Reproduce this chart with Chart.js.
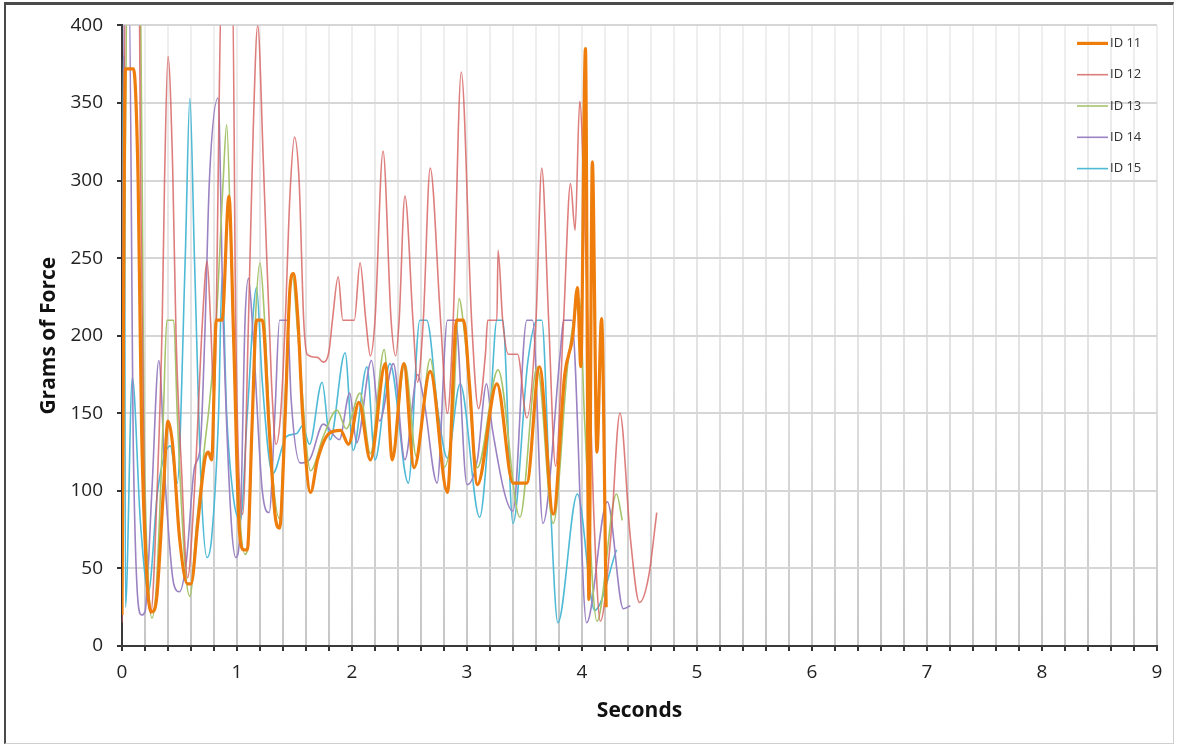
<!DOCTYPE html>
<html lang="en">
<head>
<meta charset="UTF-8">
<title>Grams of Force</title>
<script src="https://cdn.jsdelivr.net/npm/chart.js@4"></script>
<style>
  body { margin: 0; background: #fff; }
  #frame {
    position: absolute; left: 4px; top: 2px; width: 1167px; height: 738px;
    border-top: 3px solid #4a4a4a; border-left: 2px solid #4a4a4a;
    border-right: 1px solid #cfcfcf; border-bottom: 1px solid #cfcfcf;
  }
  #wrap { position: absolute; left: 0; top: 0; }
</style>
</head>
<body>
<div id="frame"></div>
<div id="wrap"><canvas id="forceChart" width="1177" height="744"></canvas></div>

<script>
// [seconds, grams of force]
const id11 = [[0,20],[0.03,372],[0.10,372],[0.14,300],[0.17,141],[0.22,40],[0.26,22],[0.30,30],[0.36,100],[0.40,145],
  [0.44,130],[0.50,70],[0.57,40],[0.60,40],[0.66,80],[0.72,120],[0.75,125],[0.78,120],[0.82,210],[0.87,210],
  [0.93,290],[0.97,200],[1.02,75],[1.06,62],[1.09,62],[1.13,140],[1.17,210],[1.22,210],[1.28,140],[1.33,85],
  [1.37,76],[1.42,150],[1.46,230],[1.49,240],[1.53,210],[1.57,150],[1.64,99],[1.70,120],[1.80,137],[1.90,139],
  [1.97,130],[2.06,157],[2.16,120],[2.29,182],[2.35,120],[2.45,182],[2.54,115],[2.68,177],[2.83,99],[2.91,210],
  [2.97,210],[3.02,170],[3.09,104],[3.26,169],[3.40,105],[3.52,105],[3.63,180],[3.75,85],[3.85,175],[3.92,200],
  [3.96,231],[3.99,180],[4.03,385],[4.06,30],[4.09,312],[4.13,125],[4.17,211],[4.21,25]];

const id12 = [[0,15],[0.03,430],[0.15,430],[0.16,310],[0.19,120],[0.25,21],[0.31,110],[0.35,210],[0.37,300],[0.40,380],
  [0.44,310],[0.47,200],[0.52,110],[0.57,44],[0.63,100],[0.70,210],[0.74,248],[0.77,210],[0.80,160],[0.87,430],
  [0.96,430],[0.99,200],[1.05,85],[1.10,210],[1.14,330],[1.18,400],[1.23,310],[1.30,170],[1.34,130],[1.38,150],
  [1.42,210],[1.46,290],[1.50,328],[1.54,300],[1.58,210],[1.61,188],[1.70,186],[1.75,183],[1.80,190],[1.83,210],
  [1.88,238],[1.92,210],[2.02,210],[2.07,247],[2.12,210],[2.16,187],[2.20,210],[2.27,319],[2.34,210],[2.38,187],
  [2.41,210],[2.46,290],[2.53,210],[2.57,170],[2.62,210],[2.68,308],[2.77,210],[2.83,150],[2.88,210],[2.95,370],
  [3.04,210],[3.10,153],[3.16,188],[3.18,210],[3.26,210],[3.27,255],[3.31,210],[3.36,188],[3.44,188],[3.52,147],
  [3.60,210],[3.65,308],[3.71,210],[3.77,116],[3.84,210],[3.90,298],[3.94,268],[3.98,351],[4.03,260],[4.10,90],
  [4.16,16],[4.25,70],[4.33,150],[4.42,70],[4.50,28],[4.58,45],[4.65,86]];

const id13 = [[0,20],[0.05,430],[0.16,430],[0.19,150],[0.23,40],[0.26,18],[0.30,40],[0.36,150],[0.39,210],[0.45,210],
  [0.48,150],[0.55,50],[0.59,32],[0.65,80],[0.72,130],[0.76,156],[0.82,210],[0.88,300],[0.91,336],[0.95,250],
  [1.00,120],[1.07,59],[1.10,70],[1.16,210],[1.20,247],[1.24,210],[1.30,120],[1.37,82],[1.43,180],[1.48,240],
  [1.53,200],[1.64,113],[1.75,135],[1.87,152],[1.95,140],[2.07,163],[2.16,124],[2.28,191],[2.35,124],[2.46,182],
  [2.56,122],[2.68,185],[2.80,115],[2.88,150],[2.93,224],[2.98,200],[3.09,115],[3.27,178],[3.46,83],[3.61,180],
  [3.75,79],[3.88,184],[3.98,224],[4.02,150],[4.13,16],[4.30,98],[4.35,81]];

const id14 = [[0,20],[0.02,430],[0.06,430],[0.10,120],[0.17,20],[0.20,22],[0.26,100],[0.32,184],[0.38,100],[0.45,40],
  [0.50,35],[0.56,55],[0.63,115],[0.68,128],[0.72,200],[0.76,300],[0.835,353],[0.88,210],[0.95,80],[0.99,57],
  [1.03,80],[1.07,210],[1.10,237],[1.14,200],[1.22,100],[1.28,86],[1.33,150],[1.37,210],[1.44,210],[1.47,160],
  [1.55,118],[1.63,120],[1.75,143],[1.89,133],[1.98,163],[2.04,131],[2.17,184],[2.24,145],[2.36,182],[2.46,120],
  [2.57,175],[2.63,156],[2.74,105],[2.83,210],[2.90,210],[3.00,104],[3.09,120],[3.17,169],[3.22,140],[3.40,87],
  [3.52,210],[3.57,210],[3.66,79],[3.81,188],[3.84,210],[3.91,210],[4.04,15],[4.22,93],[4.36,24],[4.42,26]];

const id15 = [[0,20],[0.01,380],[0.02,380],[0.03,25],[0.09,173],[0.16,80],[0.23,35],[0.31,100],[0.42,129],[0.48,105],
  [0.55,250],[0.59,353],[0.63,250],[0.69,100],[0.74,57],[0.78,70],[0.84,150],[0.87,238],[0.91,150],[0.97,95],
  [1.03,81],[1.09,150],[1.17,231],[1.22,170],[1.31,111],[1.43,135],[1.52,137],[1.57,142],[1.63,130],[1.74,170],
  [1.81,133],[1.94,189],[2.01,126],[2.13,180],[2.20,120],[2.33,182],[2.49,105],[2.59,210],[2.65,210],[2.75,150],
  [2.83,121],[2.94,169],[3.11,83],[3.20,150],[3.26,210],[3.31,210],[3.40,79],[3.53,184],[3.61,210],[3.65,210],
  [3.72,100],[3.79,15],[3.96,98],[4.11,23],[4.30,62]];

const seriesNames = ['ID 11', 'ID 12', 'ID 13', 'ID 14', 'ID 15'];
const yTicks = [0, 50, 100, 150, 200, 250, 300, 350, 400];

const FONT = '"Open Sans", "DejaVu Sans", sans-serif';

function toPoints(rows) {
  return rows.map(r => ({ x: r[0], y: r[1] }));
}

function lineSet(label, rows, color, width) {
  return {
    label: label,
    data: toPoints(rows),
    borderColor: color,
    borderWidth: width,
    pointRadius: 0,
    fill: false,
    cubicInterpolationMode: 'monotone',
    clip: 0
  };
}

// vertical grid fades toward the top like the original
function xGridColor(ctx) {
  const chart = ctx.chart;
  const a = chart.chartArea;
  if (!a) return '#d8d8d8';
  const g = chart.ctx.createLinearGradient(0, a.top, 0, a.bottom);
  g.addColorStop(0, '#efefef');
  g.addColorStop(0.55, '#e2e2e2');
  g.addColorStop(1, '#c6c6c6');
  return g;
}

// legend sits inside the plot, top right, stacked
const insideLegend = {
  id: 'insideLegend',
  afterDraw(chart) {
    const { ctx, chartArea } = chart;
    const x0 = chartArea.right - 80;
    ctx.save();
    ctx.font = '13px ' + FONT;
    ctx.textBaseline = 'middle';
    ctx.textAlign = 'left';
    chart.data.datasets.forEach((ds, i) => {
      const y = chartArea.top + 18 + i * 31.3;
      ctx.strokeStyle = ds.borderColor;
      ctx.lineWidth = ds.borderWidth;
      ctx.beginPath();
      ctx.moveTo(x0, y);
      ctx.lineTo(x0 + 31, y);
      ctx.stroke();
      ctx.fillStyle = '#333';
      ctx.fillText(ds.label, x0 + 33, y);
    });
    ctx.restore();
  }
};

const ctx = document.getElementById('forceChart').getContext('2d');
new Chart(ctx, {
  type: 'line',
  data: {
    datasets: [
      lineSet(seriesNames[0], id11, '#ee7d0c', 3.2),
      lineSet(seriesNames[1], id12, 'rgba(212, 94, 92, 0.8)', 1.6),
      lineSet(seriesNames[2], id13, '#a6c46b', 1.6),
      lineSet(seriesNames[3], id14, '#9b82c2', 1.6),
      lineSet(seriesNames[4], id15, '#4fbad6', 1.6)
    ]
  },
  options: {
    responsive: false,
    animation: false,
    layout: { padding: { top: 24, right: 20, left: 0, bottom: 0 } },
    plugins: {
      legend: { display: false },
      tooltip: { enabled: false }
    },
    scales: {
      x: {
        type: 'linear',
        min: 0,
        max: 9,
        afterFit: (s) => { s.height = 98; },
        ticks: {
          stepSize: 0.2,
          autoSkip: false,
          maxRotation: 0,
          padding: 10,
          color: '#222',
          font: { family: FONT, size: 19 },
          callback: (v) => Math.abs(v - Math.round(v)) < 1e-6 ? String(Math.round(v)) : ''
        },
        grid: { color: xGridColor, lineWidth: 2, tickColor: '#333', tickLength: 5 },
        border: { color: '#3a3a3a', width: 2 },
        title: {
          display: true,
          text: 'Seconds',
          color: '#111',
          font: { family: FONT, size: 21, weight: 'bold' },
          padding: { top: 0, bottom: 20 }
        }
      },
      y: {
        min: 0,
        max: 400,
        afterFit: (s) => { s.width = 122; },
        afterBuildTicks: (s) => { s.ticks = yTicks.map(v => ({ value: v })); },
        ticks: {
          padding: 14,
          color: '#222',
          font: { family: FONT, size: 19 }
        },
        grid: { color: '#d6d6d6', lineWidth: 2, tickColor: '#333', tickLength: 5 },
        border: { color: '#3a3a3a', width: 2 },
        title: {
          display: true,
          text: 'Grams of Force',
          color: '#111',
          font: { family: FONT, size: 21, weight: 'bold' },
          padding: { top: 36, bottom: 0 }
        }
      }
    }
  },
  plugins: [insideLegend]
});
</script>
</body>
</html>
